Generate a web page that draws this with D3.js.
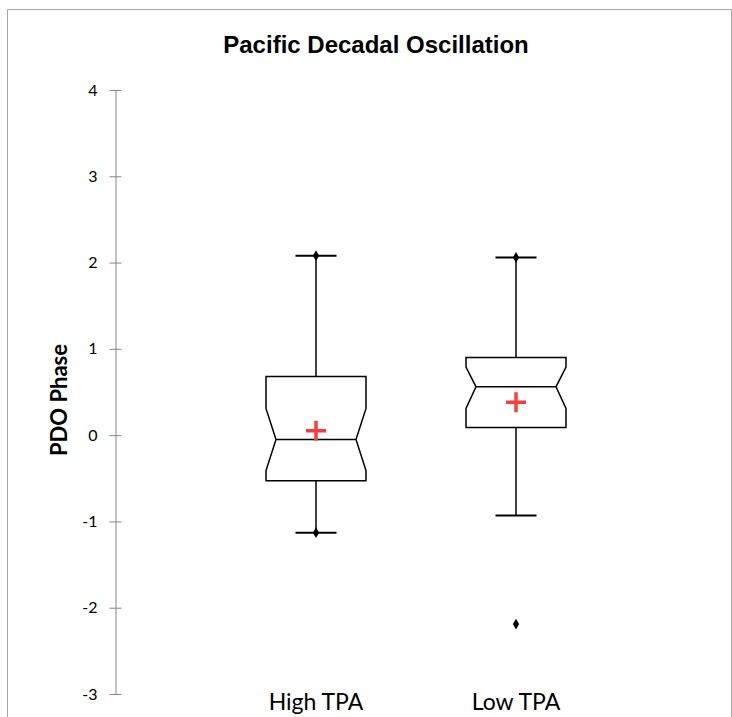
<!DOCTYPE html>
<html>
<head>
<meta charset="utf-8">
<script src="https://cdn.jsdelivr.net/npm/d3@7"></script>
<style>
  body { margin: 0; background: #fff; }
  svg { display: block; }
</style>
</head>
<body>
<svg id="chart" width="732" height="717"></svg>
<script>
// Box plot values
var categories  = ["High TPA", "Low TPA"];
var whiskerLow  = [-1.13, -0.93];
var q1          = [-0.53, 0.09];
var median      = [-0.05, 0.56];
var q3          = [0.68, 0.90];
var whiskerHigh = [2.08, 2.06];
var notchLow    = [-0.41, 0.31];
var notchHigh   = [0.31, 0.79];
var means       = [0.05, 0.38];
// which whisker ends carry a diamond marker
var lowDot      = [true, false];
var highDot     = [true, true];
var outliers    = [{cat: "Low TPA", value: -2.19}];
var yTicks      = [-3, -2, -1, 0, 1, 2, 3, 4];

var svg = d3.select("#chart");

// outer chart frame
svg.append("path")
    .attr("d", "M7.5,717 V9.5 H731.5 V717")
    .attr("fill", "none")
    .attr("stroke", "#a6a6a6")
    .attr("stroke-width", 1);

var x = d3.scaleBand()
          .domain(categories)
          .range([216, 616]);

var y = d3.scaleLinear()
          .domain([-3, 4])
          .range([694, 90]);

var boxW = x.bandwidth() * 0.5;
var notchIn = 10;
var capW = 41;

// Title
svg.append("text")
    .attr("x", 376)
    .attr("y", 53)
    .attr("font-family", "Liberation Sans, Arial, sans-serif")
    .attr("font-weight", "bold")
    .attr("font-size", "24px")
    .style("text-anchor", "middle")
    .text("Pacific Decadal Oscillation");

// Y axis
var yAxis = d3.axisLeft(y)
              .tickValues(yTicks)
              .tickFormat(function(d) { return String(d); })
              .tickSizeInner(6)
              .tickSizeOuter(0);

var gy = svg.append("g")
    .attr("transform", "translate(115.5,0)")
    .call(yAxis);

gy.select(".domain").attr("stroke", "#868686");
gy.selectAll(".tick line")
    .attr("x1", -6)
    .attr("x2", 6)
    .attr("stroke", "#868686");
gy.selectAll(".tick text")
    .attr("x", -18)
    .attr("fill", "#000")
    .attr("font-family", "Lato, Calibri, sans-serif")
    .attr("font-size", "16px");

// Y axis title
svg.append("text")
    .attr("transform", "translate(67,400) rotate(-90)")
    .attr("font-family", "Lato, Calibri, sans-serif")
    .attr("font-weight", "bold")
    .attr("font-size", "22px")
    .style("text-anchor", "middle")
    .text("PDO Phase");

// Category labels
svg.selectAll(".cat-label")
    .data(categories)
    .enter()
    .append("text")
      .classed("cat-label", true)
      .attr("x", function(d) { return x(d) + x.bandwidth() / 2; })
      .attr("y", 710)
      .attr("font-family", "Lato, Calibri, sans-serif")
      .attr("font-size", "23px")
      .style("text-anchor", "middle")
      .text(function(d) { return d; });

var rows = categories.map(function(c, i) {
  return {
    cat: c,
    lo: whiskerLow[i], q1: q1[i], med: median[i], q3: q3[i], hi: whiskerHigh[i],
    nLo: notchLow[i], nHi: notchHigh[i], mean: means[i],
    lowDot: lowDot[i], highDot: highDot[i]
  };
});

var boxes = svg.selectAll(".box")
    .data(rows)
    .enter()
    .append("g")
      .classed("box", true);

function cx(d) { return x(d.cat) + x.bandwidth() / 2; }

// whiskers
boxes.append("line")
    .attr("x1", cx).attr("x2", cx)
    .attr("y1", function(d) { return y(d.hi); })
    .attr("y2", function(d) { return y(d.q3); })
    .attr("stroke", "#000").attr("stroke-width", 1.5);
boxes.append("line")
    .attr("x1", cx).attr("x2", cx)
    .attr("y1", function(d) { return y(d.q1); })
    .attr("y2", function(d) { return y(d.lo); })
    .attr("stroke", "#000").attr("stroke-width", 1.5);

// caps
["hi", "lo"].forEach(function(k) {
  boxes.append("line")
      .attr("x1", function(d) { return cx(d) - capW / 2; })
      .attr("x2", function(d) { return cx(d) + capW / 2; })
      .attr("y1", function(d) { return y(d[k]); })
      .attr("y2", function(d) { return y(d[k]); })
      .attr("stroke", "#000").attr("stroke-width", 2);
});

// notched box outline
boxes.append("path")
    .attr("fill", "#fff")
    .attr("stroke", "#000")
    .attr("stroke-width", 1.5)
    .attr("stroke-linejoin", "miter")
    .attr("d", function(d) {
      var c = cx(d), l = c - boxW / 2, r = c + boxW / 2;
      var p = d3.path();
      p.moveTo(l, y(d.q3));
      p.lineTo(r, y(d.q3));
      p.lineTo(r, y(d.nHi));
      p.lineTo(r - notchIn, y(d.med));
      p.lineTo(r, y(d.nLo));
      p.lineTo(r, y(d.q1));
      p.lineTo(l, y(d.q1));
      p.lineTo(l, y(d.nLo));
      p.lineTo(l + notchIn, y(d.med));
      p.lineTo(l, y(d.nHi));
      p.closePath();
      return p.toString();
    });

// median line
boxes.append("line")
    .attr("x1", function(d) { return cx(d) - boxW / 2 + notchIn; })
    .attr("x2", function(d) { return cx(d) + boxW / 2 - notchIn; })
    .attr("y1", function(d) { return y(d.med); })
    .attr("y2", function(d) { return y(d.med); })
    .attr("stroke", "#000").attr("stroke-width", 1.5);

// mean marker (red plus)
boxes.append("path")
    .attr("transform", function(d) { return "translate(" + cx(d) + "," + y(d.mean) + ")"; })
    .attr("d", "M-10,0H10M0,-10V10")
    .attr("stroke", "#ff3b3b")
    .attr("stroke-width", 3.5)
    .attr("fill", "none");

// diamonds at whisker ends and outliers
var diamond = d3.symbol().type(d3.symbolDiamond).size(34);
var dots = [];
rows.forEach(function(d) {
  if (d.highDot) dots.push({cat: d.cat, value: d.hi});
  if (d.lowDot) dots.push({cat: d.cat, value: d.lo});
});
outliers.forEach(function(o) { dots.push(o); });

svg.selectAll(".dot")
    .data(dots)
    .enter()
    .append("path")
      .classed("dot", true)
      .attr("d", diamond)
      .attr("transform", function(d) {
        return "translate(" + (x(d.cat) + x.bandwidth() / 2) + "," + y(d.value) + ")";
      })
      .attr("fill", "#000");
</script>
</body>
</html>
